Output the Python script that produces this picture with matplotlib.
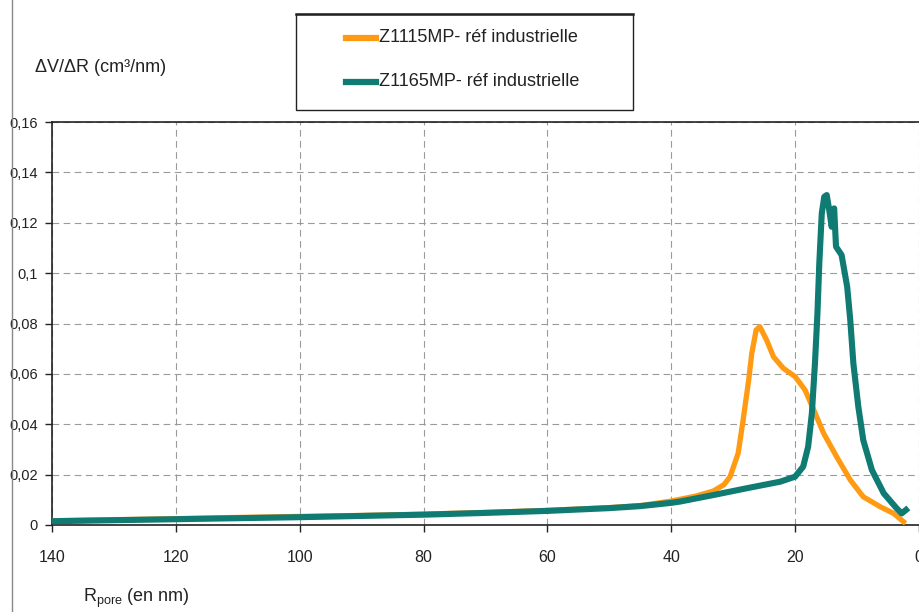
import matplotlib
matplotlib.use("Agg")
import matplotlib.pyplot as plt
from matplotlib.lines import Line2D
from matplotlib.ticker import FuncFormatter

# ---- data ----
r_orange = [140, 130, 120, 110, 100, 90, 80, 70, 60, 50, 45, 40, 36, 33.2, 31.5, 30.5, 29.2, 28.4,
            27.5, 27.0, 26.3, 25.7, 24.6, 23.5, 21.9, 20.0, 18.4, 17.0, 15.4, 13.3, 11.1,
            9.0, 6.3, 4.1, 2.5]
v_orange = [0.0017, 0.0021, 0.0025, 0.0030, 0.0034, 0.0038, 0.0043, 0.0050, 0.0058, 0.0069,
            0.0077, 0.0095, 0.0115, 0.0135, 0.0160, 0.0192, 0.0285, 0.0417, 0.0576, 0.0682,
            0.0774, 0.0787, 0.0734, 0.0668, 0.0622, 0.0589, 0.0536, 0.0457, 0.0364, 0.0271,
            0.0179, 0.0112, 0.0073, 0.0046, 0.0013]

r_teal = [140, 130, 120, 110, 100, 90, 80, 70, 60, 50, 45, 40, 38.6, 33.2, 27.8, 22.4, 20.0,
          18.7, 17.9, 17.3, 16.8, 16.4, 16.1, 15.7, 15.3, 14.9, 14.5, 14.1, 13.7, 13.4, 12.5,
          11.6, 11.1, 10.6, 9.8, 9.0, 7.6, 5.7, 3.6, 2.8, 2.1]
v_teal = [0.0015, 0.0019, 0.0023, 0.0027, 0.0031, 0.0036, 0.0041, 0.0048, 0.0056, 0.0067,
          0.0075, 0.0088, 0.0093, 0.0119, 0.0146, 0.0172, 0.0192, 0.0232, 0.0311, 0.0443,
          0.0642, 0.0840, 0.1039, 0.1237, 0.1303, 0.1310, 0.1251, 0.1184, 0.1257, 0.1105,
          0.1072, 0.0946, 0.0814, 0.0642, 0.0470, 0.0337, 0.0218, 0.0126, 0.0066, 0.0046,
          0.0060]

x_ticks = [140, 120, 100, 80, 60, 40, 20, 0]
y_ticks = [0, 0.02, 0.04, 0.06, 0.08, 0.1, 0.12, 0.14, 0.16]
labels = ["Z1115MP- réf industrielle", "Z1165MP- réf industrielle"]

ORANGE = "#FF9A12"
TEAL = "#0F7B72"

plt.rcParams['font.family'] = ['Liberation Sans', 'DejaVu Sans']
plt.rcParams['mathtext.fontset'] = 'custom'
plt.rcParams['mathtext.rm'] = 'Liberation Sans'
plt.rcParams['mathtext.it'] = 'Liberation Sans'

fig = plt.figure(figsize=(9.2, 6.12), dpi=100)
ax = fig.add_axes([52 / 920, 87 / 612, 867 / 920, 403 / 612])

ax.plot(r_orange, v_orange, color=ORANGE, lw=3.8, solid_joinstyle='round', zorder=3)
ax.plot(r_teal, v_teal, color=TEAL, lw=4.4, solid_joinstyle='round', zorder=4)

ax.set_xlim(140, 0)
ax.set_ylim(0, 0.16)
ax.set_xticks(x_ticks)
ax.set_yticks(y_ticks)
ax.yaxis.set_major_formatter(FuncFormatter(lambda v, p: ("%g" % round(v, 2)).replace('.', ',')))
ax.grid(True, color='#9a9a9a', linestyle=(0, (6, 4)), linewidth=0.8)
ax.set_axisbelow(True)
ax.spines['right'].set_visible(False)
for s in ['left', 'bottom', 'top']:
    ax.spines[s].set_color('#222222')
    ax.spines[s].set_linewidth(1.2)
ax.tick_params(axis='both', direction='out', length=5, width=1, color='#222222',
               labelcolor='#222222')
ax.tick_params(axis='x', pad=13, labelsize=11.5)
ax.tick_params(axis='y', pad=5, labelsize=10.5)

# axis titles
fig.text(35 / 920, 1 - 67 / 612, "ΔV/ΔR (cm³/nm)", fontsize=13, color='#222222',
         ha='left', va='center')
fig.text(83 / 920, 1 - 598 / 612, r"R$_{\mathrm{pore}}$ (en nm)", fontsize=13,
         color='#222222', ha='left', va='center')

# legend box
lx0, lx1, ly0, ly1 = 296 / 920, 633 / 920, 1 - 110 / 612, 1 - 14 / 612
fig.add_artist(plt.Rectangle((lx0, ly0), lx1 - lx0, ly1 - ly0, transform=fig.transFigure,
                             fill=False, edgecolor='#222222', linewidth=1.0))
fig.add_artist(Line2D([lx0, lx1], [ly1, ly1], transform=fig.transFigure,
                      color='#222222', linewidth=1.8))
for i, (lab, col) in enumerate(zip(labels, [ORANGE, TEAL])):
    yy = 1 - (38 + 44 * i) / 612
    fig.add_artist(Line2D([346 / 920, 376 / 920], [yy, yy], transform=fig.transFigure,
                          color=col, linewidth=4.5))
    fig.text(379 / 920, yy, lab, fontsize=13, color='#222222', ha='left', va='center')

# left border line of the picture
fig.add_artist(Line2D([11.5 / 920, 11.5 / 920], [0, 1], transform=fig.transFigure,
                      color='#888888', linewidth=1.0))

fig.savefig("out.png", dpi=100)
